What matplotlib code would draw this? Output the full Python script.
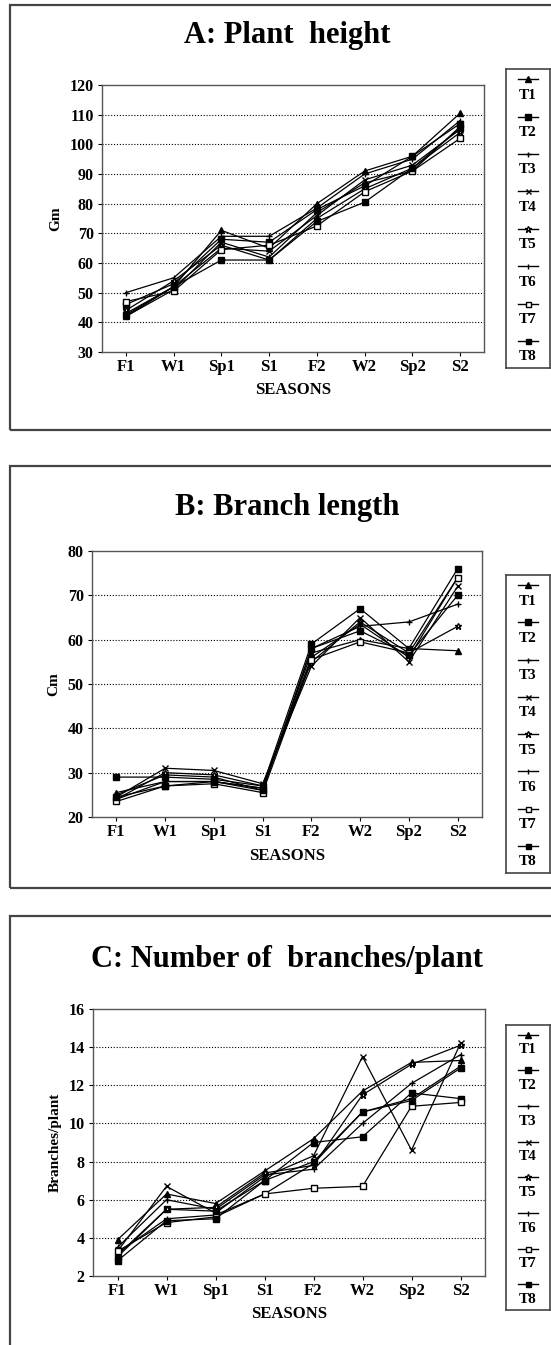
import numpy as np
import matplotlib.pyplot as plt
from matplotlib.patches import Rectangle

plt.rcParams['font.family'] = ['Liberation Serif', 'DejaVu Serif']
plt.rcParams['font.weight'] = 'bold'

##################################################################
# Data
##################################################################
seasons = ['F1', 'W1', 'Sp1', 'S1', 'F2', 'W2', 'Sp2', 'S2']
treatments = ['T1', 'T2', 'T3', 'T4', 'T5', 'T6', 'T7', 'T8']

# A: plant height (cm)
height_T1 = [42, 52, 71, 65, 80, 91, 96, 110.5]
height_T2 = [46, 53, 68, 67, 78, 86, 96, 107]
height_T3 = [50, 55, 69, 69, 78.5, 90, 95, 108]
height_T4 = [43, 52, 65, 64, 76, 88, 93, 105]
height_T5 = [44, 54, 66, 61, 75, 85, 92, 104]
height_T6 = [42, 51, 67, 62, 77, 87, 91, 106]
height_T7 = [47, 50.5, 64.5, 66, 72.5, 84, 91, 102]
height_T8 = [42.5, 52, 61, 61, 74, 80.5, 92, 105.5]

# B: branch length (cm)
branch_T1 = [25.5, 28, 28, 26.5, 57, 60, 58, 57.5]
branch_T2 = [29, 29, 28.5, 27, 59, 67, 58, 76]
branch_T3 = [25, 29.5, 29, 26, 58, 63, 64, 68]
branch_T4 = [24.5, 31, 30.5, 27.5, 54, 65, 55, 72]
branch_T5 = [24, 30, 29.5, 27, 55, 64, 57, 63]
branch_T6 = [24, 28, 28, 26.5, 56, 63.5, 56, 74]
branch_T7 = [23.5, 27, 27.5, 25.5, 55.5, 59.5, 57, 74]
branch_T8 = [24.5, 27, 28, 26, 58, 62, 56.5, 70]

# C: number of branches per plant
nbr_T1 = [3.9, 6.3, 5.8, 7.5, 9.2, 11.7, 13.2, 13.3]
nbr_T2 = [3.0, 5.5, 5.4, 7.0, 9.0, 9.3, 11.6, 11.3]
nbr_T3 = [3.5, 6.0, 5.5, 7.3, 7.6, 10.0, 12.1, 13.6]
nbr_T4 = [3.3, 6.7, 5.3, 7.2, 8.3, 13.5, 8.6, 14.2]
nbr_T5 = [3.1, 5.5, 5.6, 7.4, 7.8, 11.5, 13.1, 14.1]
nbr_T6 = [3.2, 5.0, 5.2, 6.3, 7.9, 10.6, 11.3, 13.0]
nbr_T7 = [3.3, 4.8, 5.1, 6.3, 6.6, 6.7, 10.9, 11.1]
nbr_T8 = [2.8, 4.9, 5.0, 7.0, 8.0, 10.6, 11.2, 12.9]

height = [height_T1, height_T2, height_T3, height_T4,
          height_T5, height_T6, height_T7, height_T8]
branch = [branch_T1, branch_T2, branch_T3, branch_T4,
          branch_T5, branch_T6, branch_T7, branch_T8]
nbr = [nbr_T1, nbr_T2, nbr_T3, nbr_T4, nbr_T5, nbr_T6, nbr_T7, nbr_T8]

# marker style per treatment (marker, filled?, size)
markers = [('^', True, 4.5), ('s', True, 4.5), ('+', True, 4), ('x', True, 4),
           ('*', False, 5), ('|', True, 4), ('s', False, 4), ('s', True, 4)]

##################################################################
# Layout helpers (pixel boxes -> figure fractions)
##################################################################
W, H = 551, 1345
fig = plt.figure(figsize=(W / 100, H / 100), dpi=100)


def px_rect(l, t, r, b):
    return [l / W, 1 - b / H, (r - l) / W, (b - t) / H]


def outer_box(l, t, r, b):
    fig.patches.append(Rectangle((l / W, 1 - b / H), (r - l) / W, (b - t) / H,
                                 transform=fig.transFigure, fill=False,
                                 edgecolor='#444444', linewidth=1.6))


def draw_panel(data, box, legbox, ylim, yticks, ylabel, title, title_y,
               xlabel_y):
    ax = fig.add_axes(px_rect(*box))
    x = np.arange(len(seasons))
    for vals, (m, filled, ms) in zip(data, markers):
        ax.plot(x, vals, color='black', lw=0.9, marker=m, ms=ms,
                mfc='black' if filled else 'white', mec='black', mew=1.0)
    ax.set_xlim(-0.5, len(seasons) - 0.5)
    ax.set_ylim(*ylim)
    ax.set_yticks(yticks)
    ax.set_xticks(x)
    ax.set_xticklabels(seasons, fontsize=12, fontweight='bold')
    ax.tick_params(axis='y', labelsize=11.5, length=3, width=0.8, pad=3)
    ax.tick_params(axis='x', length=3, width=0.8, pad=2)
    for yt in yticks[1:-1]:
        ax.axhline(yt, color='black', lw=0.8, ls=(0, (1, 1.6)), zorder=0)
    for s in ax.spines.values():
        s.set_color('#555555')
        s.set_linewidth(1.0)
    ax.set_ylabel(ylabel, fontsize=11, fontweight='bold', labelpad=5)
    fig.text(287 / W, 1 - title_y / H, title, ha='center', va='center',
             fontsize=22, fontweight='bold')
    fig.text((box[0] + box[2]) / 2 / W, 1 - xlabel_y / H, 'SEASONS',
             ha='center', va='center', fontsize=12, fontweight='bold')

    # legend: marker sample above each label, inside a narrow box
    lg = fig.add_axes(px_rect(*legbox))
    lg.set_xlim(0, 1)
    lg.set_ylim(len(treatments) * 2, 0)
    lg.set_xticks([])
    lg.set_yticks([])
    for s in lg.spines.values():
        s.set_color('#444444')
        s.set_linewidth(1.2)
    for i, (name, (m, filled, ms)) in enumerate(zip(treatments, markers)):
        y0 = 2 * i + 0.55
        lg.plot([0.28, 0.72], [y0, y0], color='black', lw=1.0)
        lg.plot([0.5], [y0], color='black', marker=m, ms=ms * 0.9,
                mfc='black' if filled else 'white', mec='black', mew=1.0)
        lg.text(0.5, 2 * i + 1.4, name, ha='center', va='center',
                fontsize=11, fontweight='bold')
    return ax


outer_box(10, 5, 560, 430)
outer_box(10, 466, 560, 888)
outer_box(10, 916, 560, 1400)

draw_panel(height, (102, 85, 484, 352), (506, 69, 550, 368), (30, 120),
           list(range(30, 121, 10)), 'Gm', 'A: Plant  height', 35, 390)
draw_panel(branch, (92, 551, 482, 817), (506, 575, 550, 873), (20, 80),
           list(range(20, 81, 10)), 'Cm', 'B: Branch length', 507, 856)
draw_panel(nbr, (93, 1009, 485, 1276), (506, 1025, 550, 1310), (2, 16),
           list(range(2, 17, 2)), 'Branches/plant',
           'C: Number of  branches/plant', 960, 1314)

fig.savefig('out.png', dpi=100)
